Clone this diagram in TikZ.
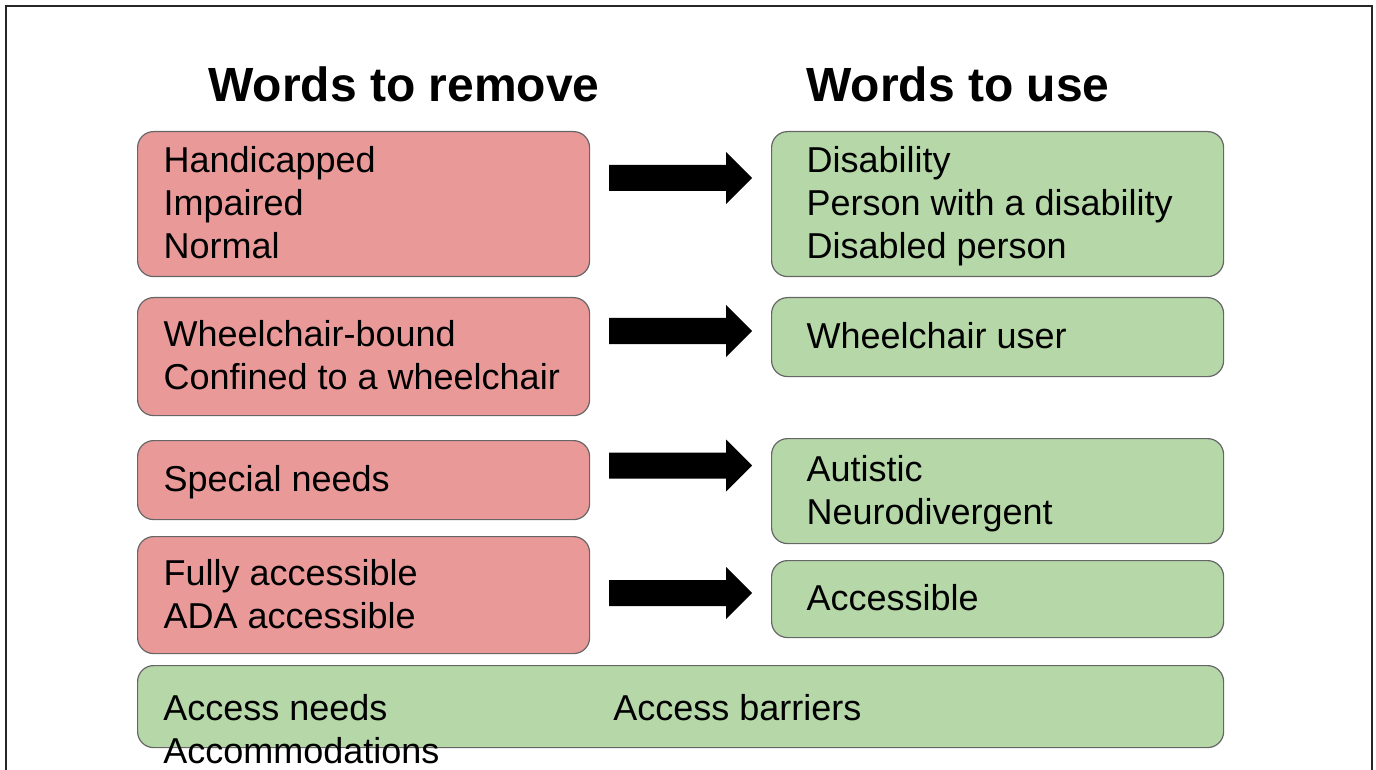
\documentclass[tikz,border=0pt]{standalone}
\usepackage{fontspec}
\setmainfont{Liberation Sans}
\usetikzlibrary{positioning}

\definecolor{removered}{HTML}{EA9999}
\definecolor{usegreen}{HTML}{B6D7A8}
\definecolor{boxline}{HTML}{666666}

% one line of box text is 21.5pt tall
\newcommand{\linestrut}{\rule[-5pt]{0pt}{21.5pt}}

\tikzset{
	words/.style={font=\fontsize{18}{21.5}\selectfont, align=flush left, inner sep=0pt, text width=213pt,
		execute at begin node=\linestrut, execute at end node=\linestrut},
	wordbox/.style={words, draw=boxline, line width=0.6pt, rounded corners=8pt,
		anchor=north west, text width=226pt, inner sep=0pt,
		execute at begin node={\leftskip=#1\linestrut}},
	removebox/.style={wordbox=13pt, fill=removered},
	usebox/.style={wordbox=17.5pt, fill=usegreen},
	heading/.style={font=\fontsize{24}{28}\selectfont\bfseries, inner sep=0pt, anchor=base west},
}

\begin{document}
\begin{tikzpicture}[x=0.5pt,y=-0.5pt]

		\useasboundingbox (0,0) rectangle (1376,770);
		\clip (0,0) rectangle (1376,770);
		\draw[line width=1pt, black!85] (6,800) -- (6,6) -- (1372,6) -- (1372,800);

		\node[heading] (hremove) at (208,102) {Words to remove};
		\node[heading] (huse) at (806,102) {Words to use};

		% left column
		\node[removebox, minimum height=72.5pt] (r1) at (137,131) {Handicapped\\Impaired\\Normal};
		\node[removebox, minimum height=59pt] (r2) at (137,297) {Wheelchair-bound\\Confined to a wheelchair};
		\node[removebox, minimum height=39.5pt] (r3) at (137,440) {Special needs};
		\node[removebox, minimum height=58.5pt] (r4) at (137,536) {Fully accessible\\ADA accessible};

		% right column
		\node[usebox, minimum height=72.5pt] (g1) at (771,131) {Disability\\Person with a disability\\Disabled person};
		\node[usebox, minimum height=39.5pt] (g2) at (771,297) {Wheelchair user};
		\node[usebox, minimum height=52.5pt] (g3) at (771,438) {Autistic\\Neurodivergent};
		\node[usebox, minimum height=38.5pt] (g4) at (771,560) {Accessible};

		% full width row
		\node[usebox, text width=543pt, minimum height=41pt] (access) at (137,665) {};
		\node[words, anchor=north west] (needs) at (163,687) {Access needs\\Accommodations};
		\node[words, anchor=north west] (barriers) at (613,687) {Access barriers};

		\foreach \y in {178,331,465.5,593}
		\fill (609,\y-13) -- (726,\y-13) -- (726,\y-26) -- (752,\y) -- (726,\y+26) -- (726,\y+13) -- (609,\y+13) -- cycle;
	\end{tikzpicture}
\end{document}
